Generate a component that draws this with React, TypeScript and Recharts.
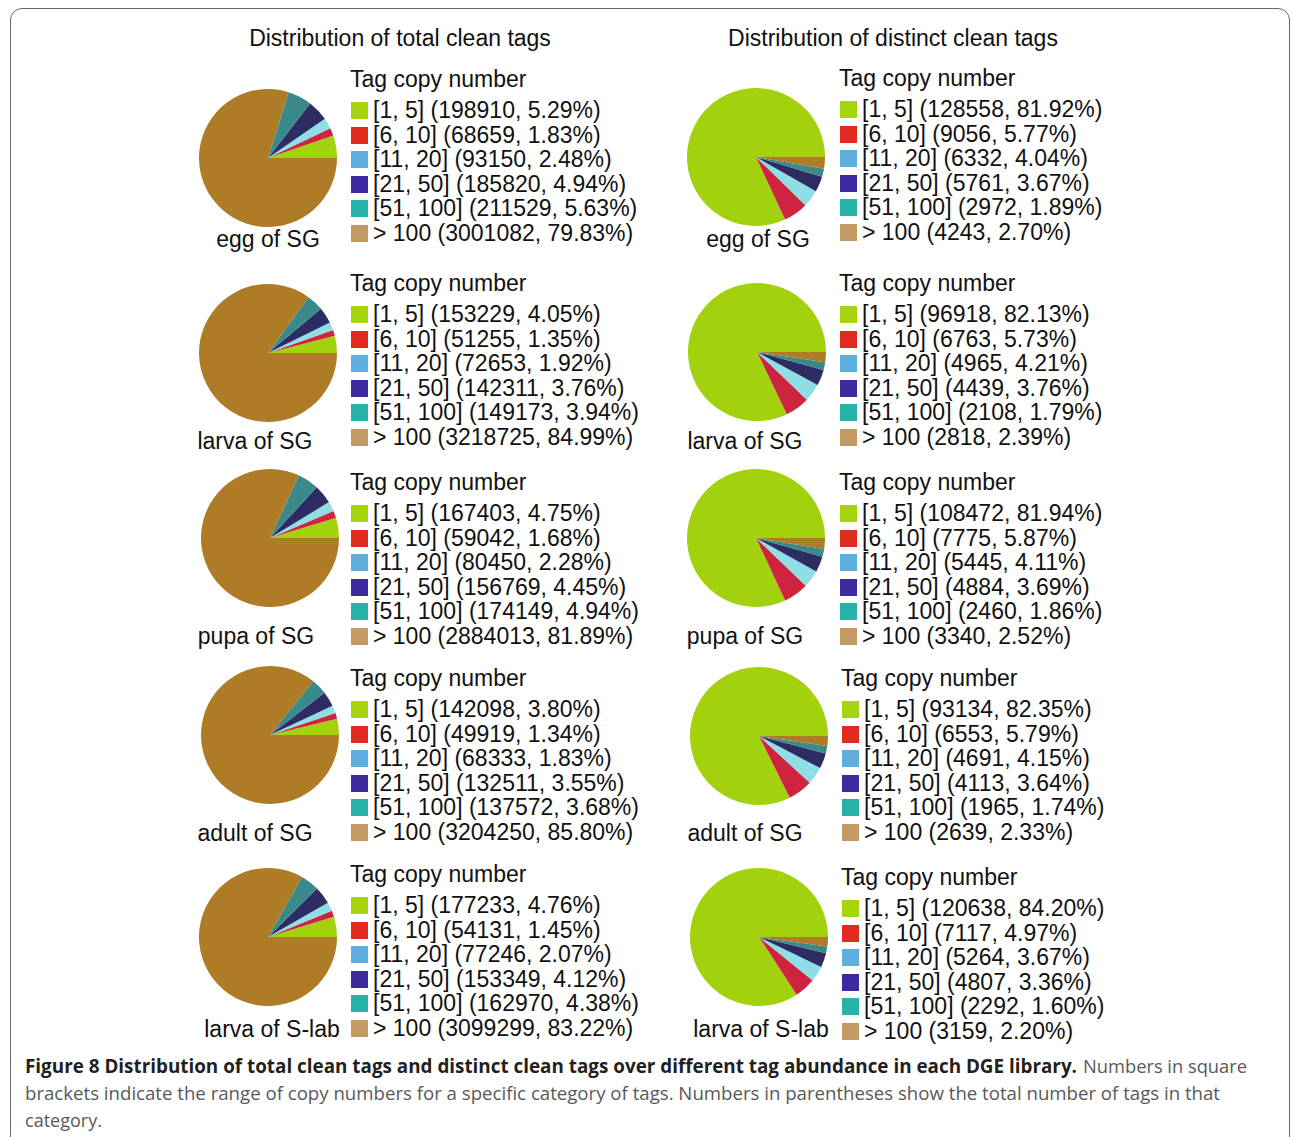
import React from 'react';
import { PieChart, Pie, Cell } from 'recharts';

const ranges = ['[1, 5]', '[6, 10]', '[11, 20]', '[21, 50]', '[51, 100]', '> 100'];
const libraries = ['egg of SG', 'larva of SG', 'pupa of SG', 'adult of SG', 'larva of S-lab'];

// total clean tags per library
const totalCounts = [
  [198910, 68659, 93150, 185820, 211529, 3001082],
  [153229, 51255, 72653, 142311, 149173, 3218725],
  [167403, 59042, 80450, 156769, 174149, 2884013],
  [142098, 49919, 68333, 132511, 137572, 3204250],
  [177233, 54131, 77246, 153349, 162970, 3099299],
];
const totalPcts = [
  ['5.29', '1.83', '2.48', '4.94', '5.63', '79.83'],
  ['4.05', '1.35', '1.92', '3.76', '3.94', '84.99'],
  ['4.75', '1.68', '2.28', '4.45', '4.94', '81.89'],
  ['3.80', '1.34', '1.83', '3.55', '3.68', '85.80'],
  ['4.76', '1.45', '2.07', '4.12', '4.38', '83.22'],
];

// distinct clean tags per library
const distinctCounts = [
  [128558, 9056, 6332, 5761, 2972, 4243],
  [96918, 6763, 4965, 4439, 2108, 2818],
  [108472, 7775, 5445, 4884, 2460, 3340],
  [93134, 6553, 4691, 4113, 1965, 2639],
  [120638, 7117, 5264, 4807, 2292, 3159],
];
const distinctPcts = [
  ['81.92', '5.77', '4.04', '3.67', '1.89', '2.70'],
  ['82.13', '5.73', '4.21', '3.76', '1.79', '2.39'],
  ['81.94', '5.87', '4.11', '3.69', '1.86', '2.52'],
  ['82.35', '5.79', '4.15', '3.64', '1.74', '2.33'],
  ['84.20', '4.97', '3.67', '3.36', '1.60', '2.20'],
];

const sliceColors = ['#a2d10e', '#cf2440', '#8fdde5', '#2d2d63', '#3a8a8b', '#ae7b27'];
const keyColors = ['#a6d40c', '#e1291d', '#5eaede', '#3b2aa0', '#28b3aa', '#c49a64'];

// panel layout: pie centre, legend origin, label centre
const rowsLeft = [
  { px: 268, py: 158, lx: 350, ly: 79, tx: 268, ty: 239 },
  { px: 268, py: 353, lx: 350, ly: 283, tx: 255, ty: 441 },
  { px: 270, py: 538, lx: 350, ly: 482, tx: 256, ty: 636 },
  { px: 270, py: 735, lx: 350, ly: 678, tx: 255, ty: 833 },
  { px: 268, py: 937, lx: 350, ly: 874, tx: 272, ty: 1029 },
];
const rowsRight = [
  { px: 756, py: 157, lx: 839, ly: 78, tx: 758, ty: 239 },
  { px: 757, py: 352, lx: 839, ly: 283, tx: 745, ty: 441 },
  { px: 756, py: 538, lx: 839, ly: 482, tx: 745, ty: 636 },
  { px: 759, py: 736, lx: 841, ly: 678, tx: 745, ty: 833 },
  { px: 759, py: 937, lx: 841, ly: 877, tx: 761, ty: 1029 },
];

const LH = 24.6;
const R = 69;

type Pos = { px: number; py: number; lx: number; ly: number; tx: number; ty: number };

const Panel: React.FC<{ pos: Pos; counts: number[]; pcts: string[]; label: string }> = ({ pos, counts, pcts, label }) => {
  const data = ranges.map((r, i) => ({ name: r, value: counts[i] }));
  return (
    <>
      <div style={{ position: 'absolute', left: pos.px - 75, top: pos.py - 75 }}>
        <PieChart width={150} height={150} margin={{ top: 0, right: 0, bottom: 0, left: 0 }}>
          <Pie
            data={data}
            dataKey="value"
            nameKey="name"
            cx={75}
            cy={75}
            outerRadius={R}
            startAngle={0}
            endAngle={360}
            stroke="none"
            isAnimationActive={false}
          >
            {data.map((d, i) => (
              <Cell key={d.name} fill={sliceColors[i]} />
            ))}
          </Pie>
        </PieChart>
      </div>
      <div style={{ position: 'absolute', left: pos.tx - 100, top: pos.ty - 12, width: 200, textAlign: 'center', lineHeight: `${LH}px` }}>
        {label}
      </div>
      <div style={{ position: 'absolute', left: pos.lx, top: pos.ly - 12, lineHeight: `${LH}px`, whiteSpace: 'nowrap' }}>
        Tag copy number
      </div>
      {ranges.map((r, i) => {
        const cy = pos.ly + 31 + i * LH;
        return (
          <React.Fragment key={r}>
            <div style={{ position: 'absolute', left: pos.lx + 1, top: cy - 8, width: 17, height: 17, background: keyColors[i] }} />
            <div style={{ position: 'absolute', left: pos.lx + 23, top: cy - 12, lineHeight: `${LH}px`, whiteSpace: 'nowrap' }}>
              {`${r} (${counts[i]}, ${pcts[i]}%)`}
            </div>
          </React.Fragment>
        );
      })}
    </>
  );
};

const App: React.FC = () => {
  return (
    <div
      style={{
        position: 'absolute',
        left: 0,
        top: 0,
        width: 1292,
        height: 1137,
        overflow: 'hidden',
        background: '#fff',
        fontFamily: '"Liberation Sans", Arial, sans-serif',
        fontSize: 23,
        color: '#111',
      }}
    >
      <div style={{ position: 'absolute', left: 10, top: 8, width: 1278, height: 1160, border: '1.5px solid #666', borderRadius: 12 }} />
      <div style={{ position: 'absolute', left: 200, top: 26, width: 400, textAlign: 'center', lineHeight: '24px' }}>
        Distribution of total clean tags
      </div>
      <div style={{ position: 'absolute', left: 693, top: 26, width: 400, textAlign: 'center', lineHeight: '24px' }}>
        Distribution of distinct clean tags
      </div>
      {libraries.map((lib, i) => (
        <React.Fragment key={lib}>
          <Panel pos={rowsLeft[i]} counts={totalCounts[i]} pcts={totalPcts[i]} label={lib} />
          <Panel pos={rowsRight[i]} counts={distinctCounts[i]} pcts={distinctPcts[i]} label={lib} />
        </React.Fragment>
      ))}
      <svg style={{ position: 'absolute', left: 0, top: 1045 }} width={1292} height={92}>
        <g fontFamily='"Open Sans", sans-serif' fontSize={19}>
          <text x={25} y={28} fontWeight="bold" fill="#231f20" textLength={1052} lengthAdjust="spacingAndGlyphs">
            Figure 8 Distribution of total clean tags and distinct clean tags over different tag abundance in each DGE library.
          </text>
          <text x={1083} y={28} fill="#58595b" textLength={164} lengthAdjust="spacingAndGlyphs">
            Numbers in square
          </text>
          <text x={25} y={55} fill="#58595b" textLength={1195} lengthAdjust="spacingAndGlyphs">
            brackets indicate the range of copy numbers for a specific category of tags. Numbers in parentheses show the total number of tags in that
          </text>
          <text x={25} y={82} fill="#58595b" textLength={77} lengthAdjust="spacingAndGlyphs">
            category.
          </text>
        </g>
      </svg>
    </div>
  );
};

export default App;
